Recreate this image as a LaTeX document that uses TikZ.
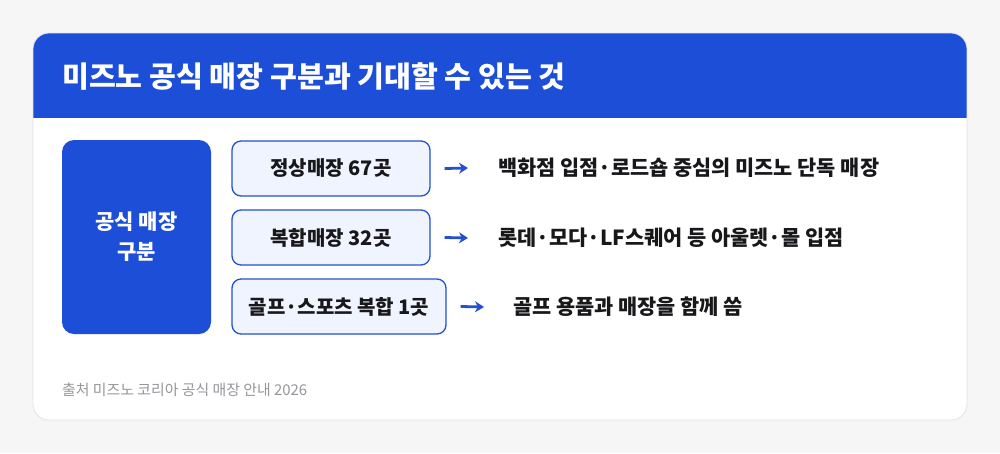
\documentclass[tikz,border=0pt]{standalone}
\usepackage{fontspec}
\setmainfont{Noto Sans CJK KR}
\usetikzlibrary{arrows.meta}
\definecolor{hdrblue}{RGB}{29,78,216}
\definecolor{boxfill}{RGB}{239,244,255}
\definecolor{boxline}{RGB}{36,80,208}
\definecolor{darktxt}{RGB}{24,24,27}
\definecolor{foot}{RGB}{150,150,155}
\definecolor{pagebg}{RGB}{246,246,247}
\definecolor{cardline}{RGB}{228,228,231}
\tikzset{
  catbox/.style={draw=boxline, line width=1.3pt, fill=boxfill, rounded corners=9pt, inner sep=0pt, font=\bfseries\fontsize{20}{23}\selectfont, text=darktxt},
  desc/.style={anchor=west, inner sep=0pt, font=\bfseries\fontsize{20.8}{24}\selectfont, text=darktxt},
  arr/.style={draw=boxline, line width=2.8pt, -{Stealth[length=9pt,width=11pt]}}
}
\begin{document}
\begin{tikzpicture}[x=1pt,y=-1pt]
\useasboundingbox (0,0) rectangle (1000,453);
\fill[pagebg] (0,0) rectangle (1000,453);
% shadow
\fill[black!4, rounded corners=16pt] (33,35) rectangle (968,422);
% card
\begin{scope}
\clip[rounded corners=16pt] (33,33) rectangle (967,420);
\fill[white] (33,33) rectangle (967,420);
\fill[hdrblue] (33,33) rectangle (967,118);
\end{scope}
\draw[cardline, line width=0.8pt, rounded corners=16pt] (33,33) rectangle (967,420);
\node[anchor=west, inner sep=0pt, text=white, font=\bfseries\fontsize{29.2}{33}\selectfont] (title) at (62,77) {미즈노 공식 매장 구분과 기대할 수 있는 것};
% left box
\node[fill=hdrblue, rounded corners=12pt, minimum width=149pt, minimum height=194pt, inner sep=0pt, text=white, align=center, font=\bfseries\fontsize{21}{30}\selectfont] (cat) at (136.5,237) {공식 매장\\구분};
% boxes
\node[catbox, minimum width=198pt, minimum height=55pt] (b1) at (331,168.5) {정상매장 67곳};
\node[catbox, minimum width=198pt, minimum height=55pt] (b2) at (331,237.5) {복합매장 32곳};
\node[catbox, minimum width=214pt, minimum height=55pt] (b3) at (339,306.5) {골프·스포츠 복합 1곳};
% descriptions
\node[desc] (t1) at (498,168) {백화점 입점·로드숍 중심의 미즈노 단독 매장};
\node[desc] (t2) at (498,238) {롯데·모다·LF스퀘어 등 아울렛·몰 입점};
\node[desc] (t3) at (513,307) {골프 용품과 매장을 함께 씀};
% arrows
\draw[arr] ([xshift=14pt]b1.east) -- ([xshift=-30pt]t1.west);
\draw[arr] ([xshift=14pt]b2.east) -- ([xshift=-30pt]t2.west);
\draw[arr] ([xshift=14pt]b3.east) -- ([xshift=-29pt]t3.west);
% footer
\node[anchor=west, inner sep=0pt, text=foot, font=\fontsize{14.9}{17}\selectfont] (src) at (62,390) {출처 미즈노 코리아 공식 매장 안내 2026};
\end{tikzpicture}
\end{document}
